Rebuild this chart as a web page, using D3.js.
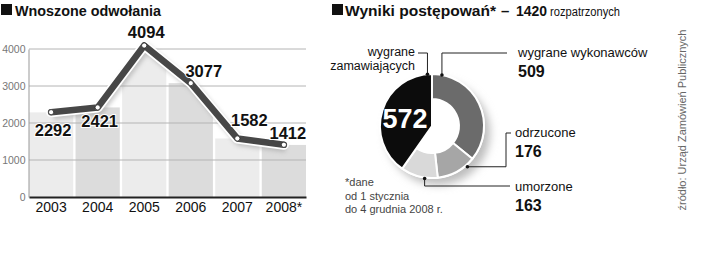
<!DOCTYPE html>
<html>
<head>
<meta charset="utf-8">
<script src="https://cdn.jsdelivr.net/npm/d3@7"></script>
<style>
  body { margin: 0; background: #fff; }
  svg { display: block; font-family: "Liberation Sans", Arial, sans-serif; }
</style>
</head>
<body>
<div class="chart"></div>
<script>
var years = ['2003', '2004', '2005', '2006', '2007', '2008*'];
var appeals = [2292, 2421, 4094, 3077, 1582, 1412];
var yTicks = [0, 1000, 2000, 3000, 4000];

var outcomeNames = ['wygrane wykonawców', 'odrzucone', 'umorzone', 'wygrane zamawiających'];
var outcomeValues = [509, 176, 163, 572];
var outcomeTotal = 1420;

var svg = d3.select('.chart')
    .append('svg')
    .attr('width', 720)
    .attr('height', 253);

var defs = svg.append('defs');
defs.append('filter').attr('id', 'blur')
    .attr('x', '-50%').attr('y', '-50%').attr('width', '200%').attr('height', '200%')
    .append('feGaussianBlur').attr('stdDeviation', 4);
defs.append('filter').attr('id', 'blur2')
    .attr('x', '-20%').attr('y', '-50%').attr('width', '140%').attr('height', '200%')
    .append('feGaussianBlur').attr('stdDeviation', 2);

// ---------- left: line over columns ----------
var xScale = d3.scaleBand()
    .domain(years)
    .range([29, 306])
    .paddingInner(0.05);

var yScale = d3.scaleLinear()
    .domain([0, 4000])
    .range([197, 49]);

var data = years.map((y, i) => ({ year: y, value: appeals[i] }));
var cx = d => xScale(d.year) + xScale.bandwidth() / 2;

// title
svg.append('rect').attr('x', 1).attr('y', 4).attr('width', 11).attr('height', 11).attr('fill', '#111');
svg.append('text').attr('x', 15).attr('y', 15.5)
    .style('font-size', '15.5px').style('font-weight', 'bold').attr('fill', '#111')
    .attr('textLength', 146).attr('lengthAdjust', 'spacingAndGlyphs')
    .text('Wnoszone odwołania');

// clip: area under the line, flat at the ends
var areaPts = [[29, yScale(appeals[0])]]
    .concat(data.map(d => [cx(d), yScale(d.value)]))
    .concat([[306, yScale(appeals[appeals.length - 1])], [306, yScale(0)], [29, yScale(0)]]);
defs.append('clipPath').attr('id', 'under')
    .append('path').attr('d', 'M' + areaPts.join('L') + 'Z');

svg.append('g')
    .attr('clip-path', 'url(#under)')
    .selectAll('rect')
    .data(data)
    .enter()
    .append('rect')
    .attr('x', d => xScale(d.year))
    .attr('width', xScale.bandwidth())
    .attr('y', d => yScale(d.value))
    .attr('height', d => yScale(0) - yScale(d.value))
    .attr('fill', (d, i) => i % 2 ? '#dcdcdc' : '#ececec');

// grid
svg.append('g')
    .selectAll('line')
    .data(yTicks.filter(t => t > 0))
    .enter()
    .append('line')
    .attr('x1', 29).attr('x2', 306)
    .attr('y1', d => yScale(d)).attr('y2', d => yScale(d))
    .attr('stroke', '#b4b4b4').attr('stroke-width', 1);

var yAxis = d3.axisLeft(yScale).tickValues(yTicks).tickFormat(d3.format('d')).tickSize(0).tickPadding(3);
var gy = svg.append('g').attr('transform', 'translate(28.5,0)').call(yAxis);
gy.select('.domain').attr('stroke', '#999');
gy.selectAll('text').style('font-size', '10.5px').attr('fill', '#777').style('font-family', '"Liberation Sans", Arial, sans-serif');

var xAxis = d3.axisBottom(xScale).tickSize(0).tickPadding(5);
var gx = svg.append('g').attr('transform', 'translate(0,' + yScale(0) + ')').call(xAxis);
gx.select('.domain').attr('stroke', '#222').attr('stroke-width', 2);
gx.selectAll('text').style('font-size', '14px').attr('fill', '#111').style('font-family', '"Liberation Sans", Arial, sans-serif');

// line
var line = d3.line().x(cx).y(d => yScale(d.value));
svg.append('path').datum(data).attr('d', line)
    .attr('transform', 'translate(2,3)')
    .attr('fill', 'none').attr('stroke', '#999').attr('stroke-width', 9)
    .attr('stroke-linejoin', 'round').attr('opacity', 0.5).attr('filter', 'url(#blur2)');
svg.append('path').datum(data).attr('d', line)
    .attr('fill', 'none').attr('stroke', '#fff').attr('stroke-width', 10)
    .attr('stroke-linejoin', 'round').attr('stroke-linecap', 'round');
svg.append('path').datum(data).attr('d', line)
    .attr('fill', 'none').attr('stroke', '#474747').attr('stroke-width', 6.5)
    .attr('stroke-linejoin', 'round').attr('stroke-linecap', 'round');

svg.append('g').selectAll('circle')
    .data(data)
    .enter()
    .append('circle')
    .attr('cx', cx).attr('cy', d => yScale(d.value))
    .attr('r', 2.6)
    .attr('fill', '#fff').attr('stroke', '#222').attr('stroke-width', 0.8);

// value labels (placement offsets from the points)
var labelOffsets = [[2, 24], [2, 20], [2, -8], [13, -6], [12, -12], [4, -6]];
svg.append('g').selectAll('text')
    .data(data)
    .enter()
    .append('text')
    .attr('x', (d, i) => cx(d) + labelOffsets[i][0])
    .attr('y', (d, i) => yScale(d.value) + labelOffsets[i][1])
    .attr('text-anchor', 'middle')
    .style('font-size', '16.5px').style('font-weight', 'bold')
    .attr('fill', '#111')
    .attr('stroke', '#fff').attr('stroke-width', 2).attr('paint-order', 'stroke')
    .text(d => d.value);

// ---------- right: donut ----------
svg.append('rect').attr('x', 332).attr('y', 4).attr('width', 11).attr('height', 11).attr('fill', '#111');
var title2 = svg.append('text').attr('x', 345).attr('y', 15.5).attr('fill', '#111');
title2.append('tspan').style('font-size', '15.5px').style('font-weight', 'bold')
    .attr('textLength', 151).attr('lengthAdjust', 'spacingAndGlyphs')
    .text('Wyniki postępowań*');
title2.append('tspan').attr('x', 501).style('font-size', '15px').style('font-weight', 'bold').text('–');
title2.append('tspan').attr('x', 516).style('font-size', '15.5px').style('font-weight', 'bold')
    .attr('textLength', 31).attr('lengthAdjust', 'spacingAndGlyphs').text(outcomeTotal);
title2.append('tspan').attr('x', 550).style('font-size', '12.5px')
    .attr('textLength', 70).attr('lengthAdjust', 'spacingAndGlyphs').text('rozpatrzonych');

var pcx = 432, pcy = 126, R = 52, r0 = 27;
var pieData = d3.pie().sort(null)(outcomeValues);
var arc = d3.arc().outerRadius(R);
var colors = ['#6b6b6b', '#a6a6a6', '#d9d9d9', '#0c0c0c'];

var pie = svg.append('g').attr('transform', 'translate(' + pcx + ',' + pcy + ')');
pie.append('circle').attr('cx', 6).attr('cy', 7).attr('r', R)
    .attr('fill', '#bdbdbd').attr('filter', 'url(#blur)');
pie.append('circle').attr('r', R + 1).attr('fill', '#fff');
pie.selectAll('path')
    .data(pieData)
    .enter()
    .append('path')
    .attr('d', (d, i) => arc.innerRadius(i === 3 ? 0 : r0)(d))
    .attr('fill', (d, i) => colors[i])
    .attr('stroke', '#fff').attr('stroke-width', 2).attr('stroke-linejoin', 'round');

pie.append('text')
    .attr('x', -27).attr('y', 2)
    .attr('text-anchor', 'middle')
    .style('font-size', '27px').style('font-weight', 'bold')
    .attr('fill', '#fff')
    .text(outcomeValues[3]);

// leaders
var P = (a, r) => { var p = d3.pointRadial(a * Math.PI / 180, r); return [pcx + p[0], pcy + p[1]]; };
var leaders = [
    { dot: P(11, R), path: a => [a, [a[0], 53], [507, 53]] },
    { dot: P(139, R + 2), path: a => [a, [506, a[1]], [506, 133], [511, 133]] },
    { dot: P(188, R + 1), path: a => [a, [a[0], 186], [510, 186]] },
    { dot: P(355, R), path: a => [a, [a[0], 53], [418, 53]] }
];
var lg = svg.append('g');
leaders.forEach(l => {
    lg.append('path').attr('d', 'M' + l.path(l.dot).join('L'))
        .attr('fill', 'none').attr('stroke', '#222').attr('stroke-width', 1);
    lg.append('circle').attr('cx', l.dot[0]).attr('cy', l.dot[1]).attr('r', 1.8).attr('fill', '#111');
});

var lab = svg.append('g').attr('fill', '#111');
lab.append('text').attr('x', 518).attr('y', 57).style('font-size', '13px').text(outcomeNames[0]);
lab.append('text').attr('x', 518).attr('y', 77).style('font-size', '16px').style('font-weight', 'bold').text(outcomeValues[0]);
lab.append('text').attr('x', 515).attr('y', 137).style('font-size', '13px').text(outcomeNames[1]);
lab.append('text').attr('x', 515).attr('y', 157).style('font-size', '16px').style('font-weight', 'bold').text(outcomeValues[1]);
lab.append('text').attr('x', 515).attr('y', 191).style('font-size', '13px').text(outcomeNames[2]);
lab.append('text').attr('x', 515).attr('y', 211).style('font-size', '16px').style('font-weight', 'bold').text(outcomeValues[2]);
var zl = outcomeNames[3].split(' ');
lab.append('text').attr('x', 415).attr('y', 56).attr('text-anchor', 'end').style('font-size', '12.5px').text(zl[0]);
lab.append('text').attr('x', 415).attr('y', 70).attr('text-anchor', 'end').style('font-size', '12.5px').text(zl[1]);

var note = svg.append('g').attr('fill', '#444').style('font-size', '11px');
['*dane', 'od 1 stycznia', 'do 4 grudnia 2008 r.'].forEach((t, i) => {
    note.append('text').attr('x', 345).attr('y', 186 + i * 13.5).text(t);
});

svg.append('text')
    .attr('transform', 'translate(686,120) rotate(-90)')
    .attr('text-anchor', 'middle')
    .style('font-size', '11px').attr('fill', '#666')
    .text('źródło: Urząd Zamówień Publicznych');
</script>
</body>
</html>
